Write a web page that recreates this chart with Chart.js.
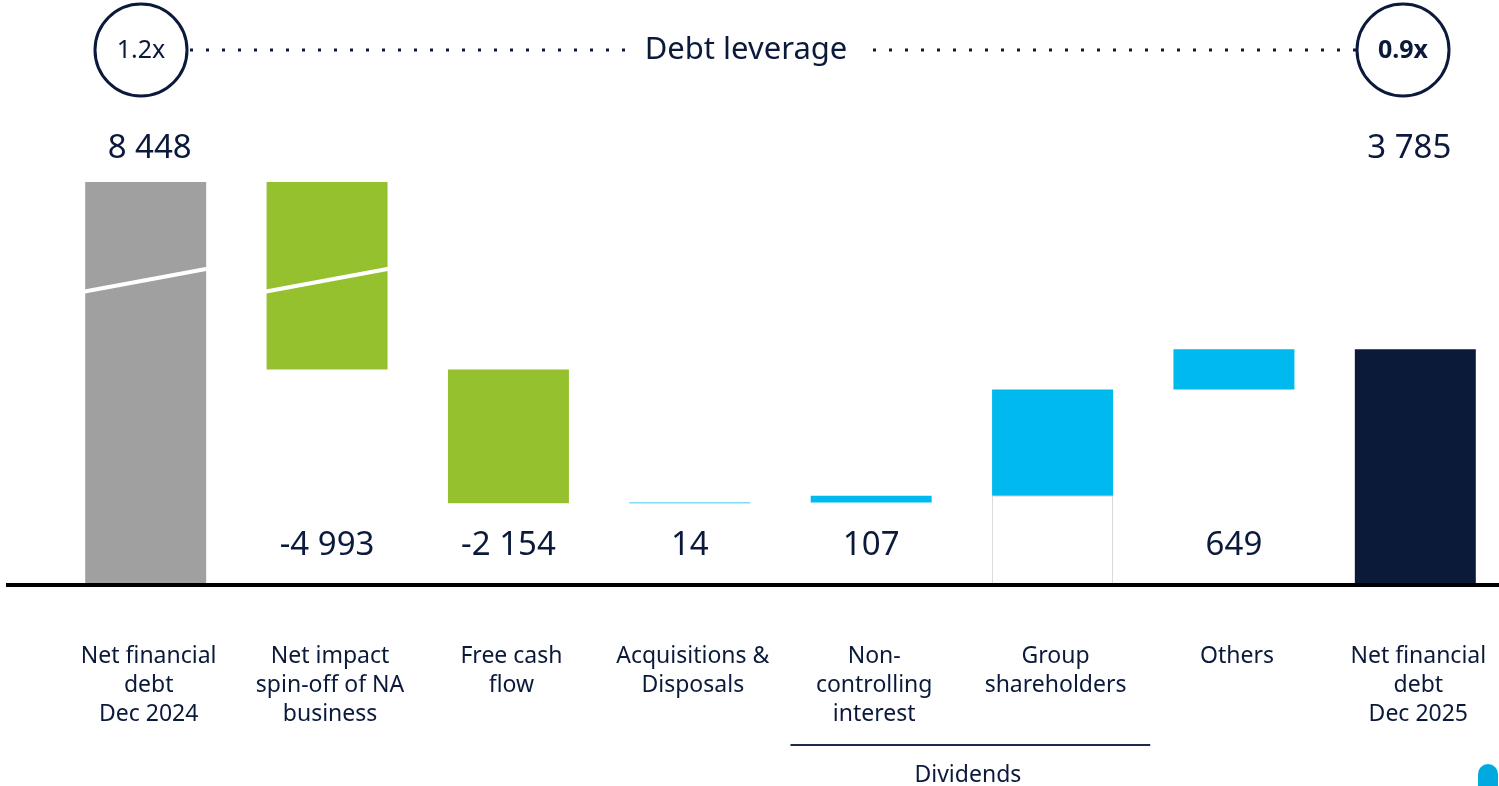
<!DOCTYPE html>
<html>
<head>
<meta charset="utf-8">
<script src="https://cdn.jsdelivr.net/npm/chart.js@4.4.1/dist/chart.umd.min.js"></script>
<style>
  html, body { margin: 0; padding: 0; background: #fff; overflow: hidden; }
  #wrap { width: 1510px; height: 786px; }
</style>
</head>
<body>
<div id="wrap"><canvas id="debtChart" width="1510" height="786"></canvas></div>
<script>
// chart data
const categories = [
    ['Net financial', 'debt', 'Dec 2024'],
    ['Net impact', 'spin-off of NA', 'business'],
    ['Free cash', 'flow'],
    ['Acquisitions &', 'Disposals'],
    ['Non-', 'controlling', 'interest'],
    ['Group', 'shareholders'],
    ['Others'],
    ['Net financial', 'debt', 'Dec 2025']
];
const openingDebt = 8448;
const movements = [-4993, -2154, 14, 107, 1714, 649];
const closingDebt = 3785;
const leverageStart = '1.2x';
const leverageEnd = '0.9x';
const groupLabel = 'Dividends';
const groupRange = [4, 5];
const hiddenLabels = [5];

const NAVY = '#0B1A3B';
const colors = ['#A0A0A0', '#96C12F', '#96C12F', '#00B9EE', '#00B9EE', '#00B9EE', '#00B9EE', '#0A1A38'];
const FONT = '"Noto Sans", sans-serif';

// broken axis: values above BREAK get squeezed by GAP
const BREAK = 4900;
const GAP = 1970;
const disp = v => (v > BREAK ? v - GAP : v);

const fmt = v => {
    const s = Math.abs(v).toString().replace(/\B(?=(\d{3})+(?!\d))/g, ' ');
    return (v < 0 ? '-' : '') + s;
};

// build floating bars
const ranges = [[0, disp(openingDebt)]];
const labelsVal = [openingDebt];
let running = openingDebt;
const before = [];
movements.forEach(m => {
    const next = running + m;
    before.push(running);
    ranges.push([disp(Math.min(running, next)), disp(Math.max(running, next))]);
    labelsVal.push(m);
    running = next;
});
ranges.push([0, disp(closingDebt)]);
labelsVal.push(closingDebt);

// white base under the group shareholders bar
const baseData = categories.map((c, i) => (i === 5 ? [0, disp(Math.min(before[4], before[4] + movements[4]))] : null));

const overlay = {
    id: 'overlay',
    afterDatasetsDraw(chart) {
        const ctx = chart.ctx;
        const y = chart.scales.y;
        const meta = chart.getDatasetMeta(1);
        const zeroY = y.getPixelForValue(0);

        // break marks
        const by = y.getPixelForValue(BREAK);
        [0, 1].forEach(i => {
            const bar = meta.data[i];
            const half = bar.width / 2;
            ctx.save();
            ctx.strokeStyle = '#ffffff';
            ctx.lineWidth = 4;
            ctx.beginPath();
            ctx.moveTo(bar.x - half - 14, by + 14);
            ctx.lineTo(bar.x + half + 16, by - 14);
            ctx.stroke();
            ctx.restore();
        });

        // baseline
        ctx.save();
        ctx.strokeStyle = '#000';
        ctx.lineWidth = 4;
        ctx.beginPath();
        ctx.moveTo(6, zeroY + 1);
        ctx.lineTo(chart.width, zeroY + 1);
        ctx.stroke();
        ctx.restore();

        // value labels
        ctx.save();
        ctx.fillStyle = NAVY;
        ctx.font = '33px ' + FONT;
        ctx.textAlign = 'center';
        ctx.textBaseline = 'middle';
        const totalY = y.getPixelForValue(disp(openingDebt)) - 33;
        labelsVal.forEach((v, i) => {
            if (hiddenLabels.includes(i)) return;
            const bar = meta.data[i];
            const isTotal = i === 0 || i === labelsVal.length - 1;
            const dx = i === 0 ? 4 : (i === labelsVal.length - 1 ? -6 : 0);
            ctx.fillText(fmt(v), bar.x + dx, isTotal ? totalY : zeroY - 38);
        });
        ctx.restore();

        // category labels
        ctx.save();
        ctx.fillStyle = NAVY;
        ctx.font = '23px ' + FONT;
        ctx.textAlign = 'center';
        ctx.textBaseline = 'middle';
        categories.forEach((lines, i) => {
            const bar = meta.data[i];
            lines.forEach((t, k) => ctx.fillText(t, bar.x + 3, zeroY + 72 + k * 29));
        });
        ctx.restore();

        // dividends bracket
        const b0 = meta.data[groupRange[0]];
        const b1 = meta.data[groupRange[1]];
        const step = b1.x - b0.x;
        ctx.save();
        ctx.strokeStyle = '#1C2B4C';
        ctx.lineWidth = 2;
        ctx.beginPath();
        ctx.moveTo(b0.x - step / 2 + 10, zeroY + 161);
        ctx.lineTo(b1.x + step / 2 + 7, zeroY + 161);
        ctx.stroke();
        ctx.fillStyle = NAVY;
        ctx.font = '23px ' + FONT;
        ctx.textAlign = 'center';
        ctx.textBaseline = 'middle';
        ctx.fillText(groupLabel, (b0.x + b1.x) / 2 + 6, zeroY + 191);
        ctx.restore();

        // leverage header
        const cy = 50, r = 46;
        const lx = 141, rx = 1403;
        ctx.save();
        ctx.strokeStyle = NAVY;
        ctx.lineWidth = 3;
        ctx.beginPath();
        ctx.arc(lx, cy, r, 0, Math.PI * 2);
        ctx.stroke();
        ctx.beginPath();
        ctx.arc(rx, cy, r, 0, Math.PI * 2);
        ctx.stroke();
        ctx.fillStyle = NAVY;
        ctx.textAlign = 'center';
        ctx.textBaseline = 'middle';
        ctx.font = '25px ' + FONT;
        ctx.fillText(leverageStart, lx, cy + 1);
        ctx.font = 'bold 25px ' + FONT;
        ctx.fillText(leverageEnd, rx, cy + 1);
        ctx.font = '31px ' + FONT;
        ctx.fillText('Debt leverage', 746, cy);
        ctx.setLineDash([3, 13]);
        ctx.lineWidth = 3;
        ctx.beginPath();
        ctx.moveTo(190, cy);
        ctx.lineTo(628, cy);
        ctx.moveTo(873, cy);
        ctx.lineTo(1357, cy);
        ctx.stroke();
        ctx.restore();

        // corner mark
        ctx.save();
        ctx.fillStyle = '#00A9E0';
        ctx.beginPath();
        ctx.moveTo(1478, 786);
        ctx.lineTo(1478, 774);
        ctx.arc(1488, 774, 10, Math.PI, 0);
        ctx.lineTo(1498, 786);
        ctx.closePath();
        ctx.fill();
        ctx.restore();
    }
};

new Chart(document.getElementById('debtChart').getContext('2d'), {
    type: 'bar',
    data: {
        labels: categories,
        datasets: [
            {
                data: baseData,
                backgroundColor: '#ffffff',
                borderColor: '#D6D6D6',
                borderWidth: 1,
                borderSkipped: false,
                grouped: false,
                categoryPercentage: 1,
                barPercentage: 0.667
            },
            {
                data: ranges,
                backgroundColor: colors,
                borderWidth: 0,
                grouped: false,
                categoryPercentage: 1,
                barPercentage: 0.667
            }
        ]
    },
    options: {
        responsive: false,
        animation: false,
        layout: { padding: { left: 55, right: 4, top: 100, bottom: 202 } },
        plugins: { legend: { display: false }, tooltip: { enabled: false } },
        scales: {
            x: { display: false },
            y: {
                display: false,
                min: 0,
                max: 7800
            }
        }
    },
    plugins: [overlay]
});
</script>
</body>
</html>
